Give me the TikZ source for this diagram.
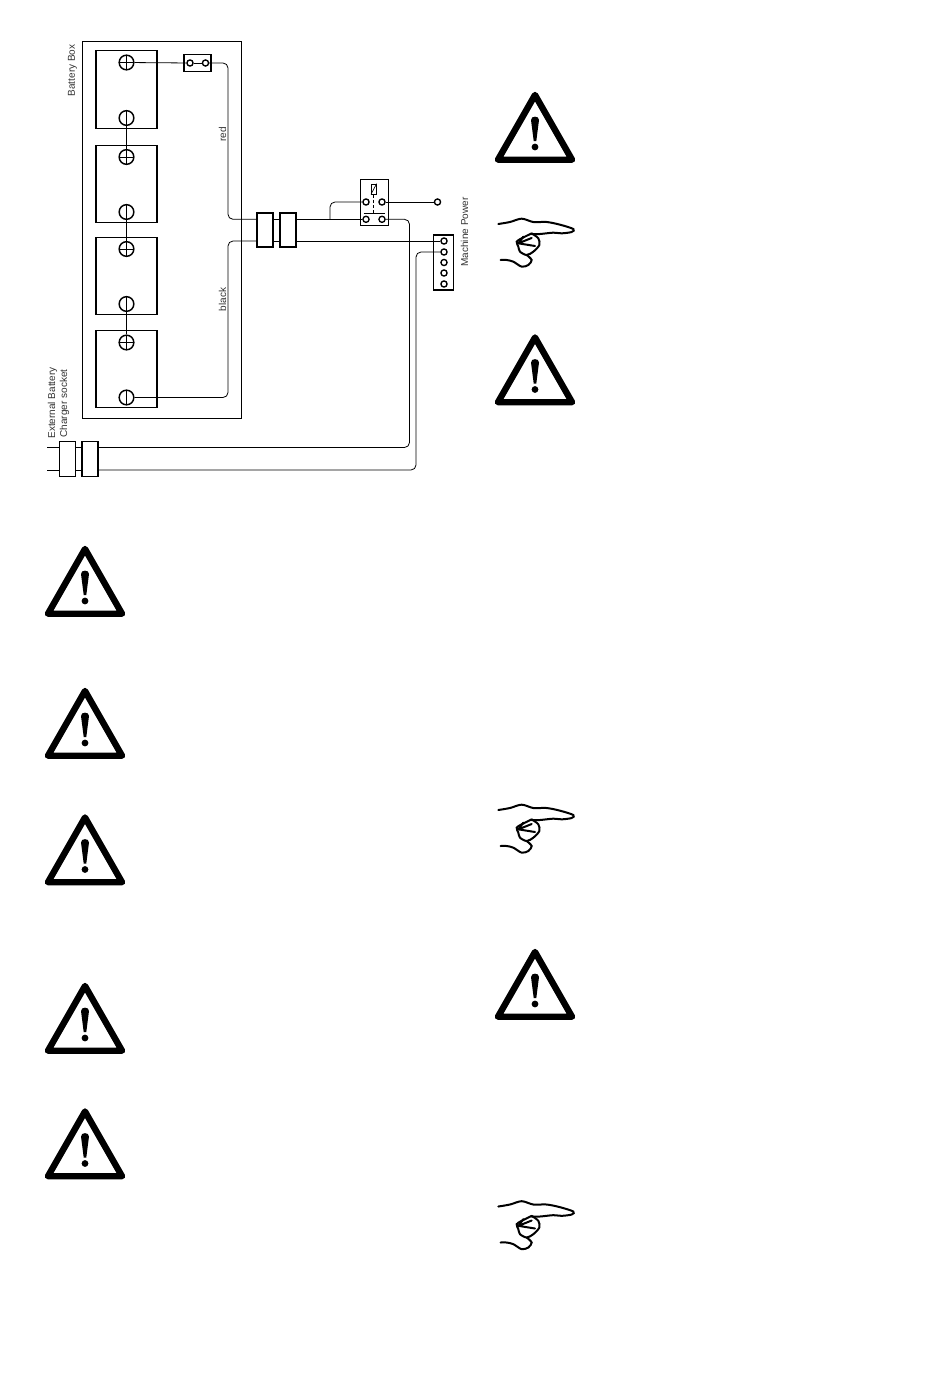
\documentclass[tikz,border=0pt]{standalone}
\usepackage{fontspec}
\setmainfont{Liberation Sans}
\tikzset{
	wire/.style={line width=0.6pt,rounded corners=3.75pt},
	box/.style={draw,line width=0.8pt,rectangle,minimum width=#1*0.75pt,inner sep=0pt},
	high/.style={minimum height=#1*0.75pt},
	pinhole/.style={draw,line width=1pt,circle,fill=white,minimum size=4.6pt,inner sep=0pt},
	termplus/.style={draw,line width=1.1pt,circle,fill=white,minimum size=11pt,inner sep=0pt,
		path picture={\draw[line width=0.7pt] (path picture bounding box.west)--(path picture bounding box.east) (path picture bounding box.north)--(path picture bounding box.south);}},
	termminus/.style={draw,line width=1.1pt,circle,fill=white,minimum size=11pt,inner sep=0pt,
		path picture={\draw[line width=0.7pt] (path picture bounding box.north)--(path picture bounding box.south);}},
	lab/.style={rotate=90,inner sep=0pt,text=black!80,font=\fontsize{7.5}{9}\selectfont},
	warnsign/.pic={
		\draw[line width=4.8pt,line join=round] (-37,-3.3) -- (37,-3.3) -- (0,-68) -- cycle;
		\fill (-4,-43) .. controls (-4,-47.5) and (4,-47.5) .. (4,-43) -- (1.3,-22) -- (-1.3,-22) -- cycle;
		\fill (0,-16) circle (3.4);
	},
	handsign/.pic={
		\begin{scope}[scale=1/3,line width=1.5pt,line cap=round]
		\draw plot[smooth] coordinates {(25,42) (60,36) (95,26) (130,36) (170,36) (210,44) (250,57) (245,66) (215,70) (190,68) (150,72) (125,72)};
		\draw plot[smooth] coordinates {(125,70) (95,85) (80,95) (85,110) (90,125) (110,135) (130,125) (148,105) (145,85) (125,70)};
		\draw (85,100) -- (125,84) (85,100) -- (135,108) (85,100) -- (100,80);
		\draw plot[smooth] coordinates {(110,135) (125,150) (115,165) (95,170) (70,155) (50,150) (32,150)};
		\end{scope}
	}
}
\begin{document}
\begin{tikzpicture}[x=0.75pt,y=-0.75pt]
	\useasboundingbox (0,0) rectangle (950,1388);
	% battery box
	\node[box=159,high=377] (bbox) at (162,230) {};
	\node[box=61,high=77.5] (batA) at (126.5,89.7) {};
	\node[box=61,high=77] (batB) at (126.5,184) {};
	\node[box=61,high=77.5] (batC) at (126.5,276.2) {};
	\node[box=61,high=77.5] (batD) at (126.5,369.2) {};
	\node[termplus] (plusA) at (126.5,62.5) {};
	\node[termminus] (minusA) at (126.5,118) {};
	\node[termplus] (plusB) at (126.5,157) {};
	\node[termminus] (minusB) at (126.5,212) {};
	\node[termplus] (plusC) at (126.5,249) {};
	\node[termminus] (minusC) at (126.5,304) {};
	\node[termplus] (plusD) at (126.5,342.5) {};
	\node[termminus] (minusD) at (126.5,397.5) {};
	\draw[line width=0.6pt] (minusA) -- (plusB);
	\draw[line width=0.6pt] (minusB) -- (plusC);
	\draw[line width=0.6pt] (minusC) -- (plusD);
	% fuse
	\node[box=27,high=16.5] (fuse) at (197.5,63) {};
	\node[pinhole] (fuseL) at (190,63) {};
	\node[pinhole] (fuseR) at (205.5,63) {};
	\draw[wire] (plusA) -- (fuseL);
	\draw[wire] (fuseL) -- (fuseR);
	% connector blocks
	\node[box=16,high=34] (conA) at (265,230) {};
	\node[box=16,high=34] (conB) at (288,230) {};
	\node[box=16,high=34.5] (chgA) at (67.5,459) {};
	\node[box=16,high=34.5] (chgB) at (90,459) {};
	% relay
	\node[box=28,high=46] (relay) at (374.5,202.5) {};
	\node[pinhole] (relA) at (366,202) {};
	\node[pinhole] (relB) at (382,202) {};
	\node[pinhole] (relC) at (366,219.3) {};
	\node[pinhole] (relD) at (382,219.3) {};
	\node[pinhole] (mainout) at (437.5,202) {};
	\node[draw,line width=0.5pt,minimum width=3.75pt,minimum height=7.5pt,inner sep=0pt] (coil) at (373.8,189) {};
	\draw[line width=0.5pt] (coil.south west) -- (coil.north east);
	\coordinate (barL) at (363.5,213);
	\coordinate (barR) at (385,213);
	\draw[line width=0.6pt] (barL) -- (barR);
	\draw[line width=0.6pt,dash pattern=on 2.5pt off 1.5pt] (coil.south) -- (373.8,213);
	% machine power
	\node[box=20.5,high=55] (machine) at (443.7,262.5) {};
	\node[pinhole] (pinA) at (444,241) {};
	\node[pinhole] (pinB) at (444,252) {};
	\node[pinhole] (pinC) at (444,262.5) {};
	\node[pinhole] (pinD) at (444,273) {};
	\node[pinhole] (pinE) at (444,284) {};
	% wiring
	\coordinate (redT) at (228,63);
	\coordinate (redB) at (228,219.3);
	\coordinate (blackT) at (228,241);
	\coordinate (blackB) at (228,397.5);
	\coordinate (conAr) at (conA.west |- redB);
	\coordinate (conAb) at (conA.west |- blackT);
	\coordinate (split) at (330,219.3);
	\coordinate (splitT) at (330,202);
	\coordinate (chgOutA) at (409.5,219.3);
	\coordinate (chgOutAb) at (409.5,447.5);
	\coordinate (chgOutB) at (416,252);
	\coordinate (chgOutBb) at (416,470);
	\coordinate (endA) at (47,447.5);
	\coordinate (endB) at (47,470);
	\draw[wire] (fuseR) -- (redT) -- (redB) -- (conAr);
	\draw[wire] (minusD) -- (blackB) -- (blackT) -- (conAb);
	\draw[wire] (conA.east |- redB) -- (conB.west |- redB);
	\draw[wire] (conA.east |- blackT) -- (conB.west |- blackT);
	\draw[wire] (conB.east |- redB) -- (relC);
	\draw[wire] (split) -- (splitT) -- (relA);
	\draw[wire] (relB) -- (mainout);
	\draw[wire] (conB.east |- blackT) -- (pinA);
	\draw[wire] (relD) -- (chgOutA) -- (chgOutAb) -- (chgB.east |- chgOutAb);
	\draw[wire] (pinB) -- (chgOutB) -- (chgOutBb) -- (chgB.east |- chgOutBb);
	\draw[wire] (chgA.east |- chgOutAb) -- (chgB.west |- chgOutAb);
	\draw[wire] (chgA.east |- chgOutBb) -- (chgB.west |- chgOutBb);
	\draw[wire] (endA) -- (chgA.west |- endA);
	\draw[wire] (endB) -- (chgA.west |- endB);
	% labels
	\node[lab] (labbox) at (72.5,70.5) {Battery Box};
	\node[lab] (labred) at (222.5,134.5) {red};
	\node[lab] (labblack) at (222.5,299.5) {black};
	\node[lab] (labext) at (52.5,403) {External Battery};
	\node[lab] (labchg) at (64.5,403.5) {Charger socket};
	\node[lab] (labmach) at (464.5,232) {Machine Power};
	% warning signs
	\pic at (535,163) {warnsign};
	\pic at (535,405.5) {warnsign};
	\pic at (535,1020) {warnsign};
	\pic at (85,617) {warnsign};
	\pic at (85,759) {warnsign};
	\pic at (85,885.5) {warnsign};
	\pic at (85,1054) {warnsign};
	\pic at (85,1179.5) {warnsign};
	% hands
	\pic at (490,210) {handsign};
	\pic at (490,796) {handsign};
	\pic at (490,1192.5) {handsign};
\end{tikzpicture}
\end{document}
